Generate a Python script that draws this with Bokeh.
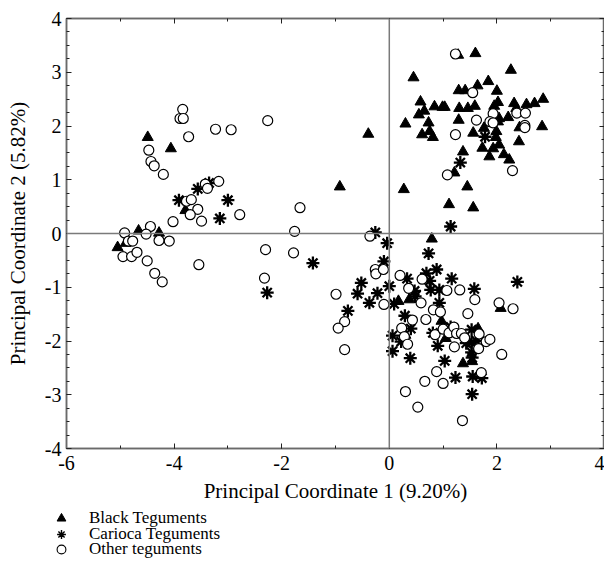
from bokeh.plotting import figure
from bokeh.models import (Range1d, LinearAxis, FixedTicker, Span, Legend, LegendItem,
                          CustomJSTickFormatter)
from bokeh.layouts import column
from bokeh.embed import file_html
from bokeh.resources import INLINE
import numpy as np

# ---------------- data ----------------
black_x = [1.28, 1.60, 2.26, 0.45, 1.84, 1.64, 1.29, 1.41, 2.00, 2.86, 0.58, 0.84, 0.99, 1.03,
           1.30, 1.46, 1.59, 2.02, 1.95, 2.32, 2.55, 2.70, 2.36, 0.55, 0.65, 1.29, 2.21, 2.04,
           2.02, 0.30, 0.73, 2.42, 2.84, 0.75, 0.61, 0.81, 1.56, 1.76, 1.99, 1.98, 2.41, 2.04,
           1.73, 1.93, 1.37, 1.86, 2.13, 2.23, 1.21, 0.27, 1.45, 1.11, 1.56, 0.79,
           -0.92, -0.39, -4.49, -4.06, -3.79, -4.66, -4.28, -4.90, -5.05,
           0.17, 0.37, 2.07, 0.97, 0.30, 1.05, 1.65, 1.37, 1.54]
black_y = [3.32, 3.35, 3.04, 2.90, 2.83, 2.75, 2.66, 2.66, 2.65, 2.50, 2.45, 2.36, 2.35, 2.35,
           2.33, 2.33, 2.37, 2.44, 2.37, 2.42, 2.40, 2.42, 2.33, 2.21, 2.28, 2.11, 2.16, 2.14,
           2.08, 2.04, 2.06, 1.97, 1.99, 1.90, 1.84, 1.79, 1.87, 1.96, 1.90, 1.79, 1.71, 1.65,
           1.59, 1.58, 1.52, 1.43, 1.47, 1.37, 1.13, 0.82, 0.87, 0.54, 0.48, -0.10,
           0.87, 1.85, 1.79, 1.58, 0.43, 0.05, 0.01, -0.18, -0.26,
           -1.26, -1.23, -1.39, -1.63, -1.89, -1.95, -1.77, -2.42, -2.38]

carioca_x = [-3.56, -3.35, -3.91, -3.00, -3.15, -2.27,
             -1.42, -0.26, -0.04, -0.10, -0.52, 0.00, -0.59, -0.22, -0.37, -0.77,
             1.78, 1.32, 1.14,
             0.73, 0.88, 0.69, 0.33, 0.75, 1.16, 2.38, 1.58, 0.47, 0.77, 0.93, 0.48, 0.09,
             0.93, 0.29, 0.40, 0.06, 0.22, 0.06, 0.39, 0.81, 1.14, 1.53, 0.90, 1.03, 1.43,
             1.53, 1.62, 1.53, 1.54, 1.23, 1.55, 1.72, 1.54]
carioca_y = [0.83, 0.94, 0.62, 0.62, 0.28, -1.10,
             -0.55, 0.02, -0.18, -0.52, -0.92, -0.98, -1.12, -1.11, -1.29, -1.44,
             1.80, 1.32, 0.13,
             -0.37, -0.67, -0.74, -0.84, -0.88, -0.84, -0.90, -1.03, -1.07, -1.05, -1.05, -1.17, -1.31,
             -1.29, -1.53, -1.77, -1.90, -2.01, -2.19, -2.32, -1.85, -1.74, -1.79, -2.09, -2.37, -2.04,
             -2.03, -2.00, -2.21, -2.31, -2.68, -2.66, -2.69, -2.99]

other_x = [-3.84, -3.89, -3.83, -2.26, -3.23, -2.94, -3.73, -4.47, -4.43, -4.37, -4.20, -3.17,
           -3.42, -3.38, -3.77, -3.68, -3.56, -3.70, -3.49, -2.78, -4.02, -4.44, -4.52, -4.92,
           -4.28, -4.09, -4.85, -4.77, -4.95, -4.79, -4.69, -4.50, -4.36, -4.22, -3.54, -2.30, -2.32,
           -1.66, -1.76, -1.78, -0.99, -0.36, -0.26, -0.25, -0.11, -0.10, -0.83, -0.95, -0.83,
           1.23, 1.55, 2.37, 2.53, 1.93, 1.62, 1.87, 1.93, 2.52, 2.52, 1.23, 2.29, 1.08,
           0.20, 0.61, 0.36, 1.07, 1.31, 1.59, 2.04, 2.30, 0.59, 0.82, 0.95, 1.46, 0.43, 0.68,
           0.23, 0.28, 0.34, 0.85, 1.00, 1.11, 1.20, 1.25, 1.34, 1.40, 1.21, 1.67, 1.66, 1.80,
           1.87, 2.09, 0.88, 1.71, 0.66, 1.00, 0.30, 0.53, 1.36]
other_y = [2.31, 2.14, 2.14, 2.10, 1.94, 1.93, 1.80, 1.55, 1.34, 1.26, 1.10, 0.97,
           0.92, 0.84, 0.60, 0.63, 0.45, 0.35, 0.23, 0.35, 0.22, 0.13, -0.01, 0.01,
           -0.13, -0.14, -0.14, -0.14, -0.43, -0.43, -0.35, -0.51, -0.74, -0.90, -0.58, -0.30, -0.83,
           0.48, 0.04, -0.36, -1.13, -0.05, -0.67, -0.75, -0.67, -1.32, -1.64, -1.76, -2.16,
           3.34, 2.62, 2.24, 2.24, 2.23, 2.11, 2.08, 2.06, 2.01, 1.97, 1.84, 1.17, 1.09,
           -0.78, -0.85, -1.02, -1.06, -1.05, -1.23, -1.29, -1.40, -1.29, -1.42, -1.46, -1.49, -1.61, -1.60,
           -1.76, -1.92, -2.06, -1.88, -1.78, -1.85, -1.74, -1.86, -1.86, -1.94, -2.11, -1.87, -2.14, -2.01,
           -1.97, -2.25, -2.57, -2.59, -2.75, -2.79, -2.94, -3.23, -3.48]

x_ticks = [-6, -4, -2, 0, 2, 4]
x_tick_labels = ["-6", "-4", "-2", "0", "2", "4"]
y_ticks = [-4, -3, -2, -1, 0, 1, 2, 3, 4]
y_tick_labels = ["-4", "-3", "-2", "-1", "0", "1", "2", "3", "4"]
x_title = "Principal Coordinate 1 (9.20%)"
y_title = "Principal Coordinate 2 (5.82%)"
series_names = ["Black Teguments", "Carioca Teguments", "Other teguments"]

FONT = "Liberation Serif"
FRAME = "#6a6a6a"

p = figure(width=604, height=505, output_backend="svg", toolbar_location=None,
           x_range=Range1d(-6, 4), y_range=Range1d(-4, 4),
           min_border_left=66, min_border_right=0, min_border_top=18, min_border_bottom=54,
           x_axis_location="below", y_axis_location="left")
p.grid.visible = False
p.outline_line_color = FRAME
p.outline_line_width = 1.5
p.frame_align = False

x_minor = list(np.arange(-6, 4.01, 1.0))
y_minor = list(np.arange(-4, 4.01, 0.25))

fmt = CustomJSTickFormatter(code="return String(tick);")

def style_axis(ax, ticks, minor, overrides, show_labels):
    ax.ticker = FixedTicker(ticks=ticks, minor_ticks=minor)
    ax.formatter = fmt
    ax.major_label_overrides = overrides
    ax.axis_line_color = FRAME
    ax.axis_line_width = 1.5
    ax.major_tick_in = 5
    ax.major_tick_out = 0
    ax.minor_tick_in = 3
    ax.minor_tick_out = 0
    ax.major_tick_line_color = "#222222"
    ax.minor_tick_line_color = "#222222"
    ax.major_label_text_font = FONT
    ax.major_label_text_color = "black"
    ax.axis_label_text_font = FONT
    ax.axis_label_text_font_style = "normal"
    ax.axis_label_text_color = "black"
    if show_labels:
        ax.major_label_text_font_size = "20px"
        ax.axis_label_text_font_size = "21px"
    else:
        ax.major_label_text_font_size = "0px"
        ax.major_label_text_alpha = 0
        ax.major_label_standoff = 0
        ax.axis_label_standoff = 0

xov = {str(t): l for t, l in zip(x_ticks, x_tick_labels)}
yov = {str(t): l for t, l in zip(y_ticks, y_tick_labels)}

style_axis(p.xaxis[0], x_ticks, x_minor, xov, True)
style_axis(p.yaxis[0], y_ticks, y_minor, yov, True)
p.xaxis[0].axis_label = x_title
p.yaxis[0].axis_label = y_title
p.xaxis[0].major_label_standoff = 7
p.xaxis[0].axis_label_standoff = 6
p.yaxis[0].major_label_standoff = 5
p.yaxis[0].axis_label_standoff = 12

top_ax = LinearAxis()
style_axis(top_ax, x_ticks, x_minor, {}, False)
p.add_layout(top_ax, "above")
right_ax = LinearAxis()
style_axis(right_ax, y_ticks, y_minor, {}, False)
p.add_layout(right_ax, "right")

p.add_layout(Span(location=0, dimension="height", line_color="#7a7a7a", line_width=1.5))
p.add_layout(Span(location=0, dimension="width", line_color="#7a7a7a", line_width=1.5))

TRI = dict(marker="triangle", size=11, fill_color="black", line_color="black")
AST = dict(marker="asterisk", size=13, line_color="black", line_width=2.3)
CIR = dict(marker="circle", size=10, fill_color="white", line_color="black", line_width=1.2)

p.scatter(black_x, black_y, **TRI)
p.scatter(carioca_x, carioca_y, **AST)
p.scatter(other_x, other_y, **CIR)

# ---------------- legend strip below the chart ----------------
# same series, but the strip's ranges lie outside the data so only the legend shows
lg = figure(width=604, height=55, output_backend="svg", toolbar_location=None,
            x_range=Range1d(100, 101), y_range=Range1d(100, 101),
            x_axis_location=None, y_axis_location=None,
            min_border_left=0, min_border_right=0, min_border_top=0, min_border_bottom=0)
lg.grid.visible = False
lg.outline_line_color = None
lg.frame_align = False
lr1 = lg.scatter(black_x, black_y, marker="triangle", fill_color="black", line_color="black")
lr2 = lg.scatter(carioca_x, carioca_y, marker="asterisk", line_color="black", line_width=1.4)
lr3 = lg.scatter(other_x, other_y, marker="circle", fill_color="white", line_color="black",
                 line_width=1.1)

row_y = [31, 15, 0]
for name, rr, yy in zip(series_names, [lr1, lr2, lr3], row_y):
    leg = Legend(items=[LegendItem(label=name, renderers=[rr])],
                 location=(50, yy), orientation="vertical",
                 label_text_font=FONT, label_text_font_size="17px", label_text_color="black",
                 label_height=16, glyph_height=22, glyph_width=22,
                 label_standoff=17, spacing=0, padding=0, margin=0,
                 border_line_color=None, background_fill_alpha=0)
    lg.add_layout(leg, "center")

layout = column(p, lg, spacing=0)
open("out.html", "w").write(file_html(layout, INLINE))
